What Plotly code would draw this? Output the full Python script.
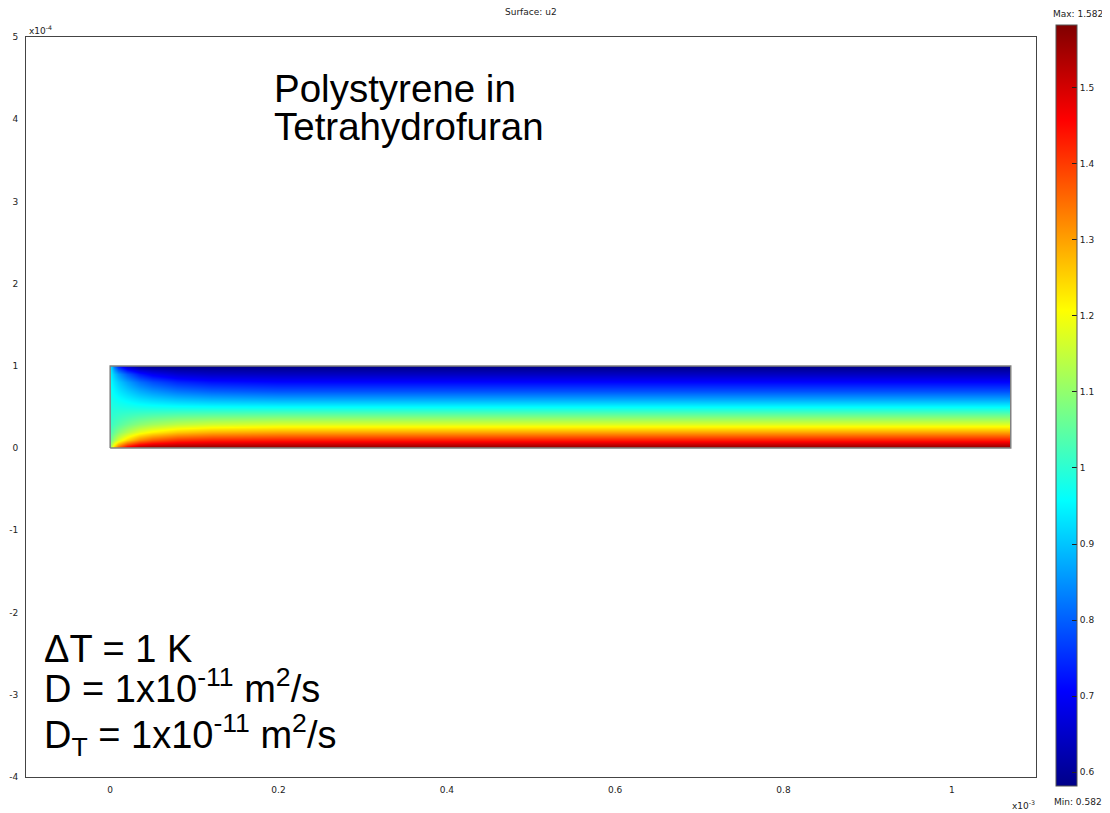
import plotly.graph_objects as go

# ---- data ----
# x positions along the channel, in units of 1e-3 m
x_pos = [0.0, 0.005, 0.01, 0.02, 0.035, 0.05, 0.08, 0.12, 0.2, 1.07]
# y positions across the channel, in units of 1e-4 m
y_pos = [0.0, 0.1, 0.2, 0.3, 0.4, 0.5, 0.6, 0.7, 0.8, 0.9, 1.0]
# u2 values, one row per y position
u2 = [
    [1.12, 1.278, 1.381, 1.495, 1.557, 1.575, 1.581, 1.582, 1.582, 1.582],
    [1.06, 1.120, 1.171, 1.248, 1.324, 1.368, 1.409, 1.426, 1.431, 1.431],
    [1.03, 1.060, 1.088, 1.133, 1.183, 1.217, 1.258, 1.281, 1.293, 1.295],
    [1.01, 1.026, 1.039, 1.064, 1.092, 1.113, 1.139, 1.157, 1.169, 1.172],
    [1.00, 1.005, 1.010, 1.018, 1.028, 1.036, 1.046, 1.053, 1.058, 1.060],
    [0.99, 0.987, 0.985, 0.981, 0.976, 0.972, 0.967, 0.963, 0.960, 0.959],
    [0.98, 0.970, 0.961, 0.946, 0.927, 0.913, 0.894, 0.881, 0.871, 0.868],
    [0.97, 0.952, 0.936, 0.909, 0.877, 0.853, 0.822, 0.802, 0.788, 0.785],
    [0.96, 0.931, 0.906, 0.864, 0.817, 0.784, 0.746, 0.724, 0.713, 0.711],
    [0.95, 0.900, 0.858, 0.794, 0.732, 0.695, 0.661, 0.647, 0.643, 0.643],
    [0.94, 0.818, 0.738, 0.650, 0.601, 0.588, 0.582, 0.582, 0.582, 0.582],
]
u_min, u_max = 0.582, 1.582
x_ticks = [0, 0.2, 0.4, 0.6, 0.8, 1]
x_ticktext = ["0", "0.2", "0.4", "0.6", "0.8", "1"]
y_ticks = [-4, -3, -2, -1, 0, 1, 2, 3, 4, 5]
y_ticktext = ["-4", "-3", "-2", "-1", "0", "1", "2", "3", "4", "5"]
cb_ticks = [0.6, 0.7, 0.8, 0.9, 1.0, 1.1, 1.2, 1.3, 1.4, 1.5]
cb_ticktext = ["0.6", "0.7", "0.8", "0.9", "1", "1.1", "1.2", "1.3", "1.4", "1.5"]

jet = [
    [0.0, "rgb(0,0,136)"],
    [0.125, "rgb(0,0,255)"],
    [0.375, "rgb(0,255,255)"],
    [0.625, "rgb(255,255,0)"],
    [0.875, "rgb(255,0,0)"],
    [1.0, "rgb(128,0,0)"],
]

# the page puts the figure 8px in from the top-left corner
OFF = 8
PAGE_W, PAGE_H = 1110, 813
W, H = PAGE_W - OFF, PAGE_H - OFF
# plot area in page pixels
PL, PR, PT, PB = 26, 1036, 37, 777
L, T = PL - OFF, PT - OFF
R, B = W - (PR - OFF), H - (PB - OFF)
pw = PR - PL
ph = PB - PT


def px_x(p):
    return (p - PL) / pw


def px_y(p):
    return (PB - p) / ph


CB_LEFT, CB_BOTTOM, CB_LEN, CB_THICK = 1056, 786, 761, 21

fig = go.Figure()
fig.add_trace(go.Contour(
    x=x_pos, y=y_pos, z=u2,
    colorscale=jet, zmin=u_min, zmax=u_max,
    contours=dict(coloring="heatmap", start=u_min, end=u_max, size=0.01, showlines=False),
    line=dict(width=0),
    hoverinfo="skip",
    colorbar=dict(
        x=px_x(CB_LEFT), xanchor="left", xpad=0,
        y=px_y(CB_BOTTOM), yanchor="bottom", ypad=0,
        lenmode="pixels", len=CB_LEN,
        thickness=CB_THICK,
        outlinewidth=1, outlinecolor="#555",
        tickvals=cb_ticks, ticktext=cb_ticktext,
        ticks="inside", ticklen=5, tickcolor="#222",
        tickfont=dict(family="DejaVu Sans", size=9, color="#222"),
    ),
))

x0, x1 = x_pos[0], x_pos[-1]
y0, y1 = y_pos[0], y_pos[-1]
fig.add_trace(go.Scatter(
    x=[x0, x1, x1, x0, x0], y=[y0, y0, y1, y1, y0],
    mode="lines", line=dict(color="#808080", width=1.5),
    hoverinfo="skip", showlegend=False,
))

# tick marks on the left edge of the colour bar, at the same values as its ticks
shapes = []
for v in cb_ticks:
    yp = px_y(CB_BOTTOM) + (v - u_min) / (u_max - u_min) * CB_LEN / ph
    shapes.append(dict(type="line", xref="paper", yref="paper",
                       x0=px_x(CB_LEFT + 1), x1=px_x(CB_LEFT + 6), y0=yp, y1=yp,
                       line=dict(color="#222", width=1)))

axis_common = dict(
    showgrid=False, zeroline=False, showline=True, mirror=True,
    linecolor="#444", linewidth=1, ticks="", automargin=False,
    tickfont=dict(family="DejaVu Sans", size=9, color="#222"),
)
fig.update_layout(
    width=W, height=H,
    margin=dict(l=L, r=R, t=T, b=B, autoexpand=False),
    paper_bgcolor="white", plot_bgcolor="white",
    showlegend=False,
    shapes=shapes,
    xaxis=dict(range=[-0.1, 1.1], tickvals=x_ticks, ticktext=x_ticktext,
               ticklabelstandoff=4, **axis_common),
    yaxis=dict(range=[-4, 5], tickvals=y_ticks, ticktext=y_ticktext,
               ticklabelstandoff=5, **axis_common),
)

big1 = dict(family="Liberation Sans, Arial", size=38.5, color="black")
big2 = dict(family="Liberation Sans, Arial", size=38, color="black")
small = dict(family="DejaVu Sans", size=9, color="#222")
ann = [
    dict(text="Surface: u2", x=0.5, y=px_y(12), xanchor="center", yanchor="middle", font=small),
    dict(text="Max: 1.582", x=px_x(1078), y=px_y(14), xanchor="center", yanchor="middle", font=small),
    dict(text="Min: 0.582", x=px_x(1078), y=px_y(802), xanchor="center", yanchor="middle", font=small),
    dict(text="x10<sup>-4</sup>", x=px_x(27), y=px_y(38), xanchor="left", yanchor="bottom", font=small),
    dict(text="x10<sup>-3</sup>", x=px_x(1037), y=px_y(805), xanchor="right", yanchor="middle", font=small),
    dict(text="Polystyrene in", x=px_x(272), y=px_y(89), xanchor="left", yanchor="middle", font=big1),
    dict(text="Tetrahydrofuran", x=px_x(272), y=px_y(127), xanchor="left", yanchor="middle", font=big1),
    dict(text="\u0394T = 1 K", x=px_x(42), y=px_y(649), xanchor="left", yanchor="middle", font=big2),
    dict(text="D = 1x10<sup>-11</sup> m<sup>2</sup>/s", x=px_x(42), y=px_y(686), xanchor="left", yanchor="middle", font=big2),
    dict(text="D<sub>T</sub> = 1x10<sup>-11</sup> m<sup>2</sup>/s", x=px_x(42), y=px_y(735), xanchor="left", yanchor="middle", font=big2),
]
for a in ann:
    a.update(xref="paper", yref="paper", showarrow=False)
fig.update_layout(annotations=ann)

fig.write_html("out.html")
